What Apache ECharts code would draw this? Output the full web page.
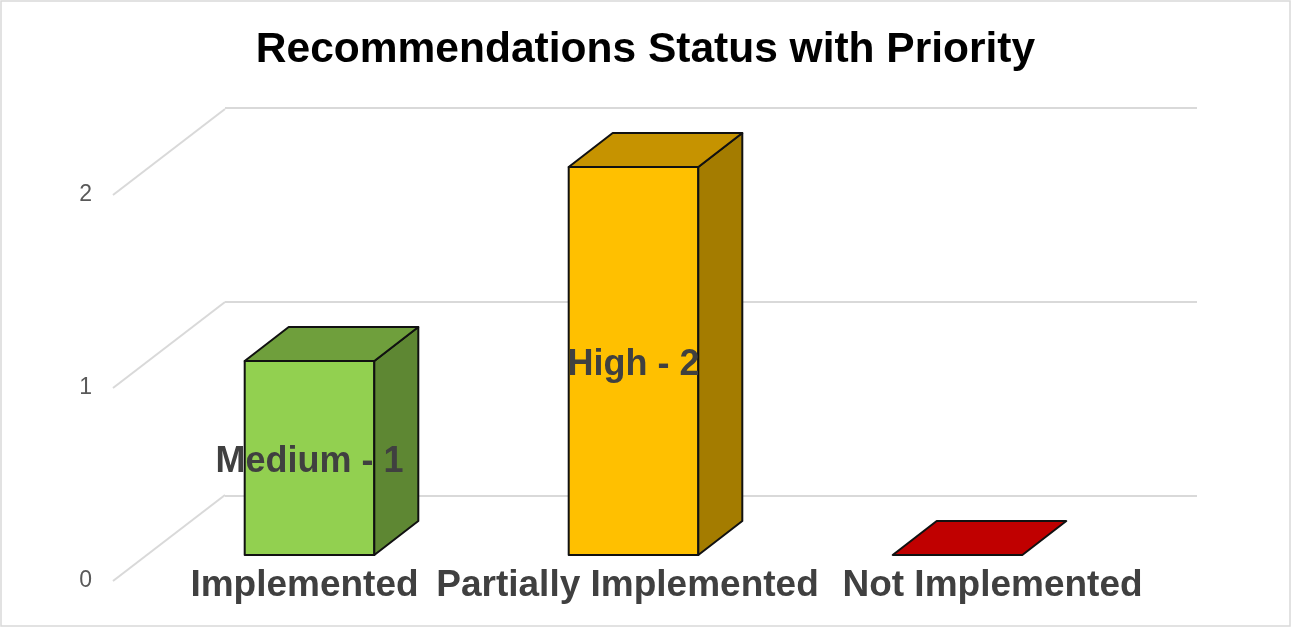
<!DOCTYPE html>
<html>
<head>
<meta charset="utf-8">
<script src="https://cdn.jsdelivr.net/npm/echarts@6/dist/echarts.min.js"></script>
<style>
  html, body { margin: 0; padding: 0; background: #ffffff; }
  #chart { width: 1291px; height: 627px; }
</style>
</head>
<body>
<div id="chart"></div>
<script>
// ---- data ----
const categories = ['Implemented', 'Partially Implemented', 'Not Implemented'];
const counts = [1, 2, 0];
const priorities = ['Medium', 'High', ''];
const yTicks = [0, 1, 2];

// ---- styles ----
const palette = [
  { front: '#92D050', top: '#6F9F3C', side: '#5E8733' },
  { front: '#FFC000', top: '#C69300', side: '#A47C00' },
  { front: '#C00000', top: '#C00000', side: '#900000' }
];
const labelShift = [-10, -12, 70]; // horizontal nudges for category labels (padding)
const DEPTH = [44, -34];           // bar depth offset in pixels
const SIDE = [112, -86];           // side-wall depth offset in pixels
const FONT = '"Liberation Sans", Arial, sans-serif';

const chart = echarts.init(document.getElementById('chart'), null, { renderer: 'canvas' });

function renderBar(params, api) {
  const i = api.value(0), v = api.value(1);
  const b = api.coord([i, 0]);
  const t = api.coord([i, v]);
  const w = api.size([1, 0])[0] * 0.4;
  const x0 = b[0] - w / 2, x1 = b[0] + w / 2, yb = b[1], yt = t[1];
  const dx = DEPTH[0], dy = DEPTH[1];
  const pal = palette[i];
  const st = (fill) => ({ fill: fill, stroke: '#111111', lineWidth: 2, lineJoin: 'round' });
  const children = [];
  if (v > 0) {
    children.push({ type: 'rect', shape: { x: x0, y: yt, width: w, height: yb - yt }, style: st(pal.front) });
    children.push({ type: 'polygon', shape: { points: [[x1, yt], [x1 + dx, yt + dy], [x1 + dx, yb + dy], [x1, yb]] }, style: st(pal.side) });
  }
  children.push({ type: 'polygon', shape: { points: [[x0, yt], [x1, yt], [x1 + dx, yt + dy], [x0 + dx, yt + dy]] }, style: st(pal.top) });
  if (priorities[i]) {
    children.push({
      type: 'text', z2: 20,
      x: b[0], y: (yb + yt) / 2 + 4,
      style: {
        text: priorities[i] + ' - ' + v,
        fill: '#404040', fontSize: 36, fontWeight: 'bold', fontFamily: FONT,
        align: 'center', verticalAlign: 'middle'
      }
    });
  }
  return { type: 'group', children: children };
}

function renderSideLine(params, api) {
  const p = api.coord([0, api.value(1)]);
  return {
    type: 'line',
    shape: { x1: p[0], y1: p[1], x2: p[0] + SIDE[0], y2: p[1] + SIDE[1] },
    style: { stroke: '#D9D9D9', lineWidth: 2 }
  };
}

const option = {
  animation: false,
  backgroundColor: '#ffffff',
  title: {
    text: 'Recommendations Status with Priority',
    left: 'center', top: 24,
    textStyle: { fontSize: 42.5, fontWeight: 'bold', color: '#000000', fontFamily: FONT }
  },
  graphic: [{
    type: 'rect', silent: true, z: -1,
    shape: { x: 1, y: 1, width: 1289, height: 625 },
    style: { fill: 'none', stroke: '#D9D9D9', lineWidth: 1.5 }
  }],
  grid: [
    { left: 147.5, right: 171.5, top: 167, bottom: 72 },   // bar front plane
    { left: 113, right: 100, top: 195, bottom: 46 },       // label plane
    { left: 225, right: 94, top: 108, bottom: 131 }        // back wall
  ],
  xAxis: [
    {
      gridIndex: 0, type: 'category',
      data: categories.map((c, i) => ({
        value: c,
        textStyle: { padding: labelShift[i] < 0 ? [0, -labelShift[i], 0, 0] : [0, 0, 0, labelShift[i]] }
      })),
      axisLine: { show: false }, axisTick: { show: false }, splitLine: { show: false },
      axisLabel: {
        interval: 0, margin: 12,
        fontSize: 37, fontWeight: 'bold', color: '#404040', fontFamily: FONT
      }
    },
    { gridIndex: 1, type: 'value', min: 0, max: 1, show: false },
    { gridIndex: 2, type: 'value', min: 0, max: 1, show: false }
  ],
  yAxis: [
    { gridIndex: 0, type: 'value', min: 0, max: 2, interval: 1, show: false },
    {
      gridIndex: 1, type: 'value', min: 0, max: 2, interval: 1,
      axisLine: { show: false }, axisTick: { show: false }, splitLine: { show: false },
      axisLabel: {
        margin: 21, fontSize: 23, color: '#595959', fontFamily: FONT,
        padding: [3, 0, 0, 0],
        formatter: (val) => yTicks.includes(val) ? String(val) : ''
      }
    },
    {
      gridIndex: 2, type: 'value', min: 0, max: 2, interval: 1,
      axisLine: { show: false }, axisTick: { show: false }, axisLabel: { show: false },
      splitLine: { show: true, lineStyle: { color: '#D9D9D9', width: 2 } }
    }
  ],
  series: [
    {
      type: 'custom', xAxisIndex: 1, yAxisIndex: 1, silent: true, z: 1,
      renderItem: renderSideLine,
      data: yTicks.map(v => [0, v])
    },
    {
      type: 'custom', xAxisIndex: 0, yAxisIndex: 0, silent: true, z: 5,
      renderItem: renderBar,
      data: categories.map((c, i) => [i, counts[i]])
    }
  ]
};

chart.setOption(option);
</script>
</body>
</html>
